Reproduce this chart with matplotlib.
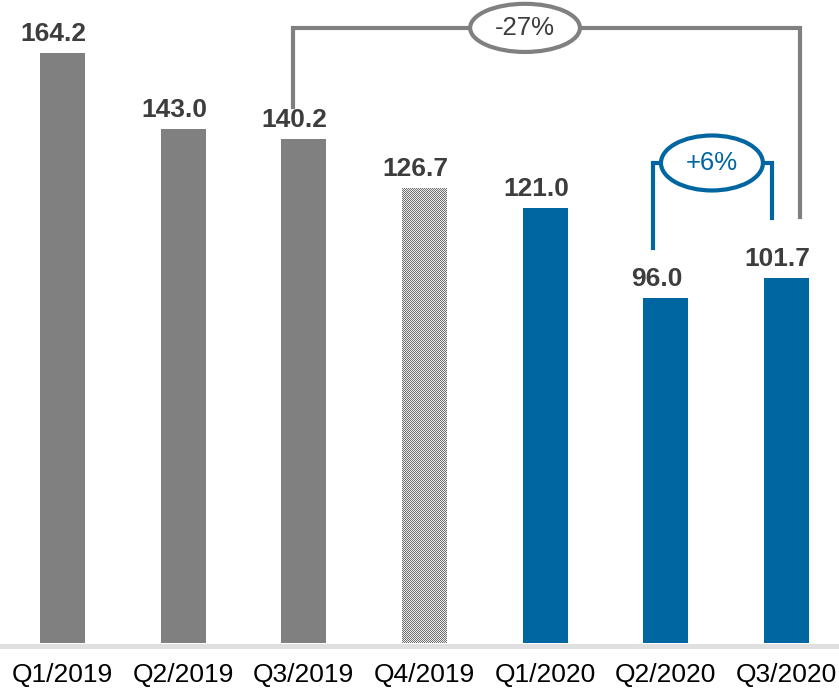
import numpy as np
import matplotlib
matplotlib.use("Agg")
import matplotlib.pyplot as plt
from matplotlib.patches import Ellipse

categories = ["Q1/2019", "Q2/2019", "Q3/2019", "Q4/2019", "Q1/2020", "Q2/2020", "Q3/2020"]
values = [164.2, 143.0, 140.2, 126.7, 121.0, 96.0, 101.7]
labels = ["164.2", "143.0", "140.2", "126.7", "121.0", "96.0", "101.7"]
styles = ["gray", "gray", "gray", "hatch", "blue", "blue", "blue"]
yoy_text = "-27%"
qoq_text = "+6%"

GRAY = "#808080"
BLUE = "#0066a1"
DARK = "#3d3d3d"

plt.rcParams["font.family"] = ["Liberation Sans", "DejaVu Sans"]

W, H = 839, 690
fig = plt.figure(figsize=(W / 100, H / 100), dpi=100)
ax = fig.add_axes([0, 30 / H, 1, 1 - 30 / H])
ax.set_xlim(-0.518, 6.435)
ax.set_ylim(-4.73, 178.96)
for s in ax.spines.values():
    s.set_visible(False)
ax.set_yticks([])

x = np.arange(len(categories))
colors = [GRAY if s == "gray" else BLUE if s == "blue" else "none" for s in styles]
bars = ax.bar(x, values, width=0.373, color=colors, zorder=3, linewidth=0)

# baseline
ax.axhline(-0.7, color="#e0e0e0", lw=3.6, zorder=2)

ax.set_xticks(x)
ax.set_xticklabels(categories, fontsize=19, color="black")
ax.tick_params(axis="x", length=0, pad=2)

# value labels
ypx = 3.593  # pixels per unit
for xi, v, lab in zip(x, values, labels):
    ax.text(xi - 0.075, v + 12 / ypx, lab, ha="center", va="baseline",
            fontsize=19, fontweight="bold", color=DARK, zorder=5)

# checkerboard fill for the hatched bar
fig.canvas.draw()
for b, s in zip(bars, styles):
    if s == "hatch":
        bb = b.get_window_extent()
        x0, y0 = int(round(bb.x0)), int(round(bb.y0))
        w, h = int(round(bb.width)), int(round(bb.height))
        yy, xx = np.mgrid[0:h, 0:w]
        chk = ((xx + yy) % 2).astype(float)
        img = np.where(chk[..., None] == 0, np.array([0.45, 0.45, 0.45]), np.array([0.92, 0.92, 0.92]))
        fig.figimage(img, xo=x0, yo=y0, zorder=3)

# gray bracket (-27%)
gy = 171.2
ax.plot([2 - 0.09, 2 - 0.09, 6 + 0.11, 6 + 0.11], [149.2, gy, gy, 118.6],
        color=GRAY, lw=3, solid_joinstyle="miter", zorder=4)
ax.add_patch(Ellipse((3.833, gy), 0.91, 13.4, facecolor="white", edgecolor=GRAY, lw=3, zorder=6))
ax.text(3.833, gy, yoy_text, ha="center", va="center", fontsize=18.5, color=DARK, zorder=7)

# blue bracket (+6%)
by = 133.6
ax.plot([5 - 0.106, 5 - 0.106, 6 - 0.12, 6 - 0.12], [109.9, by, by, 118.3],
        color=BLUE, lw=3, solid_joinstyle="miter", zorder=4)
ax.add_patch(Ellipse((5.382, by), 0.845, 15.3, facecolor="white", edgecolor=BLUE, lw=3, zorder=6))
ax.text(5.382, by, qoq_text, ha="center", va="center", fontsize=18.5, color=BLUE, zorder=7)

fig.savefig("out.png", dpi=100)
